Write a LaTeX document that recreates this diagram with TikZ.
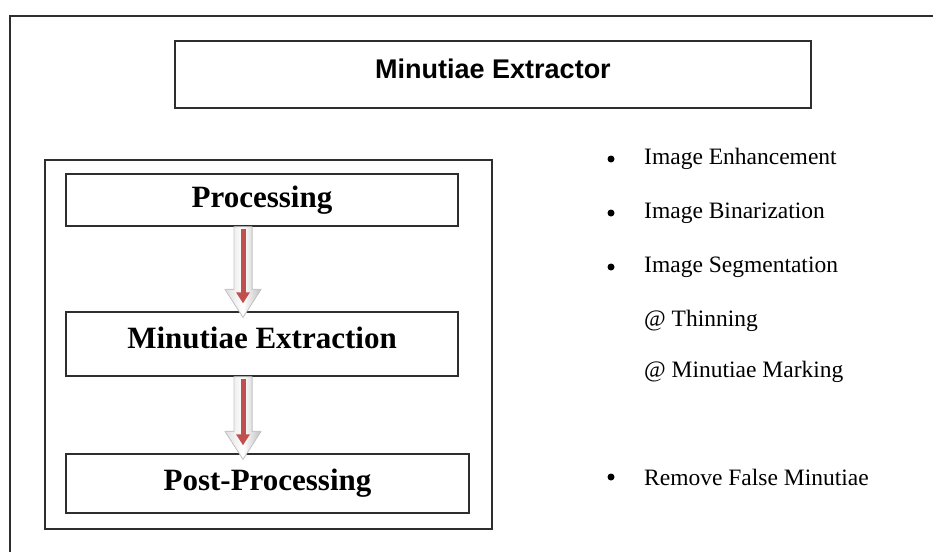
\documentclass[tikz,border=0pt]{standalone}
\usepackage{fontspec}
\setmainfont{Liberation Serif}
\newfontfamily\titlefont{Liberation Sans}
\usetikzlibrary{arrows.meta,calc}
\definecolor{arrowred}{HTML}{C0504D}
\definecolor{framegray}{HTML}{2E2E2E}

\begin{document}
\begin{tikzpicture}[x=1pt,y=-1pt,
  frame/.style={draw=framegray,line width=1.3pt},
  stage/.style={frame,minimum width=392pt,font=\fontsize{31}{36}\selectfont\bfseries},
  item/.style={anchor=west,inner sep=0pt,font=\fontsize{23.5}{28}\selectfont},
  dot/.style={circle,fill=black,inner sep=0pt,minimum size=7pt},
  blockarrow/.style={draw=gray!45,line width=0.8pt,left color=gray!25,right color=gray!50,middle color=white},
  redarrow/.style={-{Triangle[length=11pt,width=13pt]},line width=5pt,arrowred}
]
\useasboundingbox (0,0) rectangle (933,552);
% outer frame, only top and left edges show
\draw[frame] (10,552) -- (10,16) -- (933,16);

\node[frame,minimum width=636pt,minimum height=67pt,text depth=11pt,font=\titlefont\fontsize{27}{32}\selectfont\bfseries] (title) at (493,74.5) {Minutiae Extractor};

% stages
\node[frame,minimum width=447pt,minimum height=369pt] (group) at (268.5,344.5) {};
\node[stage,minimum height=52pt] (proc) at (262,200) {Processing};
\node[stage,minimum height=64pt,text depth=12pt] (minu) at (262,344) {Minutiae Extraction};
\node[stage,minimum width=403pt,minimum height=59pt] (post) at (267.5,483.5) {Post-Processing};

\foreach \a/\b in {proc/minu,minu/post} {
  \coordinate (s) at ($(\a.south)+(-19,0)$);
  \coordinate (t) at ($(s |- \b.north)+(0,6)$);
  \filldraw[blockarrow] ($(s)+(-9,0)$) -- ($(t)+(-9,-28)$) -- ($(t)+(-18,-28)$) -- (t)
    -- ($(t)+(18,-28)$) -- ($(t)+(9,-28)$) -- ($(s)+(9,0)$) -- cycle;
  \draw[redarrow] ($(s)+(0,2)$) -- ($(t)+(0,-14)$);
}

% steps list
\foreach \n/\y/\t in {enh/159/Image Enhancement,bin/213/Image Binarization,seg/267/Image Segmentation,rem/477/Remove False Minutiae} {
  \node[dot] (dot-\n) at (611,\y) {};
  \node[item] (\n) at (644,\y) {\t};
}
\node[item] (thin) at (644,321) {@ Thinning};
\node[item] (mark) at (644,372) {@ Minutiae Marking};
\end{tikzpicture}
\end{document}
